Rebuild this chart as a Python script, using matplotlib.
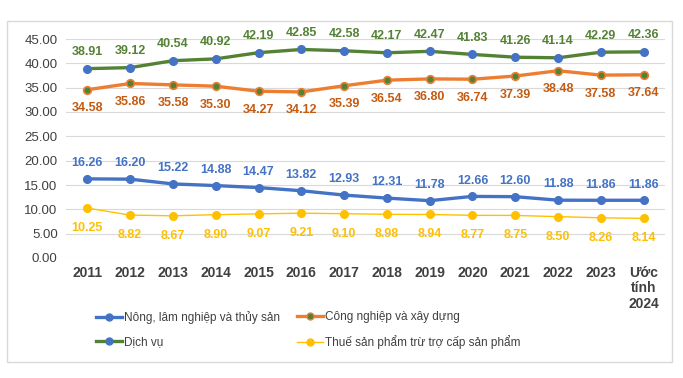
import matplotlib
matplotlib.use("Agg")
import matplotlib.pyplot as plt
from matplotlib.patches import Rectangle
from matplotlib.lines import Line2D

plt.rcParams['font.family'] = ['Liberation Sans', 'DejaVu Sans']

categories = ["2011", "2012", "2013", "2014", "2015", "2016", "2017", "2018",
              "2019", "2020", "2021", "2022", "2023", "Ước\ntính\n2024"]
nong_lam = [16.26, 16.20, 15.22, 14.88, 14.47, 13.82, 12.93, 12.31, 11.78, 12.66, 12.60, 11.88, 11.86, 11.86]
cong_nghiep = [34.58, 35.86, 35.58, 35.30, 34.27, 34.12, 35.39, 36.54, 36.80, 36.74, 37.39, 38.48, 37.58, 37.64]
dich_vu = [38.91, 39.12, 40.54, 40.92, 42.19, 42.85, 42.58, 42.17, 42.47, 41.83, 41.26, 41.14, 42.29, 42.36]
thue = [10.25, 8.82, 8.67, 8.90, 9.07, 9.21, 9.10, 8.98, 8.94, 8.77, 8.75, 8.50, 8.26, 8.14]
yticks = [0, 5, 10, 15, 20, 25, 30, 35, 40, 45]
series_names = ["Nông, lâm nghiệp và thủy sản", "Công nghiệp và xây dựng",
                "Dịch vụ", "Thuế sản phẩm trừ trợ cấp sản phẩm"]

W, H = 683, 378
fig = plt.figure(figsize=(W/100, H/100), dpi=100)
fig.patches.append(Rectangle((7/W, 1-362/H), 665/W, 341/H, transform=fig.transFigure,
                             fill=False, edgecolor='#d9d9d9', linewidth=1.0))

ax = fig.add_axes([66/W, 1-258/H, 599/W, 219/H])
x = list(range(len(categories)))

BLUE = '#4472C4'
ORANGE = '#ED7D31'
GREEN = '#548235'
YELLOW = '#FFC000'

ax.plot(x, dich_vu, color=GREEN, lw=2.4, marker='o', ms=5.5, mfc=BLUE, mec=BLUE, zorder=3)
ax.plot(x, cong_nghiep, color=ORANGE, lw=2.4, marker='o', ms=5.5, mfc=GREEN, mec=ORANGE, mew=1.2, zorder=3)
ax.plot(x, nong_lam, color=BLUE, lw=2.4, marker='o', ms=5.5, mfc=BLUE, mec=BLUE, zorder=3)
ax.plot(x, thue, color=YELLOW, lw=1.0, marker='o', ms=5.5, mfc=YELLOW, mec=YELLOW, zorder=3)

lab_kw = dict(ha='center', fontsize=9, fontweight='bold')
for xi, v in zip(x, dich_vu):
    ax.annotate(f"{v:.2f}", (xi, v), xytext=(0, 7.5), textcoords='offset points', va='bottom', color='#548235', **lab_kw)
for xi, v in zip(x, cong_nghiep):
    ax.annotate(f"{v:.2f}", (xi, v), xytext=(0, -9), textcoords='offset points', va='top', color='#C55A11', **lab_kw)
for xi, v in zip(x, nong_lam):
    ax.annotate(f"{v:.2f}", (xi, v), xytext=(0, 7), textcoords='offset points', va='bottom', color='#4472C4', **lab_kw)
for xi, v in zip(x, thue):
    ax.annotate(f"{v:.2f}", (xi, v), xytext=(0, -10), textcoords='offset points', va='top', color='#FFC000', **lab_kw)

ax.set_xlim(-0.5, len(categories)-0.5)
ax.set_ylim(0, 45)
ax.set_yticks(yticks)
ax.set_yticklabels([f"{t:.2f}" for t in yticks], fontsize=9.5, color='#404040')
ax.set_xticks(x)
ax.set_xticklabels(categories, fontsize=10, fontweight='bold', color='#404040', va='top', linespacing=1.1)
ax.tick_params(axis='both', length=0, pad=6)
ax.grid(axis='y', color='#d9d9d9', lw=0.8)
ax.set_axisbelow(True)
for s in ax.spines.values():
    s.set_visible(False)

h_nong = Line2D([], [], color=BLUE, lw=2.4, marker='o', ms=5, mfc=BLUE, mec=BLUE)
h_cong = Line2D([], [], color=ORANGE, lw=2.4, marker='o', ms=5, mfc=GREEN, mec=ORANGE)
h_dich = Line2D([], [], color=GREEN, lw=2.4, marker='o', ms=5, mfc=BLUE, mec=BLUE)
h_thue = Line2D([], [], color=YELLOW, lw=1.0, marker='o', ms=5, mfc=YELLOW, mec=YELLOW)

leg_kw = dict(loc='upper left', frameon=False, fontsize=8.5, handlelength=2.2, handletextpad=0.2,
              labelspacing=1.0, labelcolor='#404040', borderaxespad=0, borderpad=0)
leg1 = fig.legend([h_nong, h_dich], [series_names[0], series_names[2]],
                  bbox_to_anchor=(96/W, 1-311/H), **leg_kw)
leg2 = fig.legend([h_cong, h_thue], [series_names[1], series_names[3]],
                  bbox_to_anchor=(297/W, 1-311/H), **leg_kw)

fig.savefig("out.png", dpi=100)
